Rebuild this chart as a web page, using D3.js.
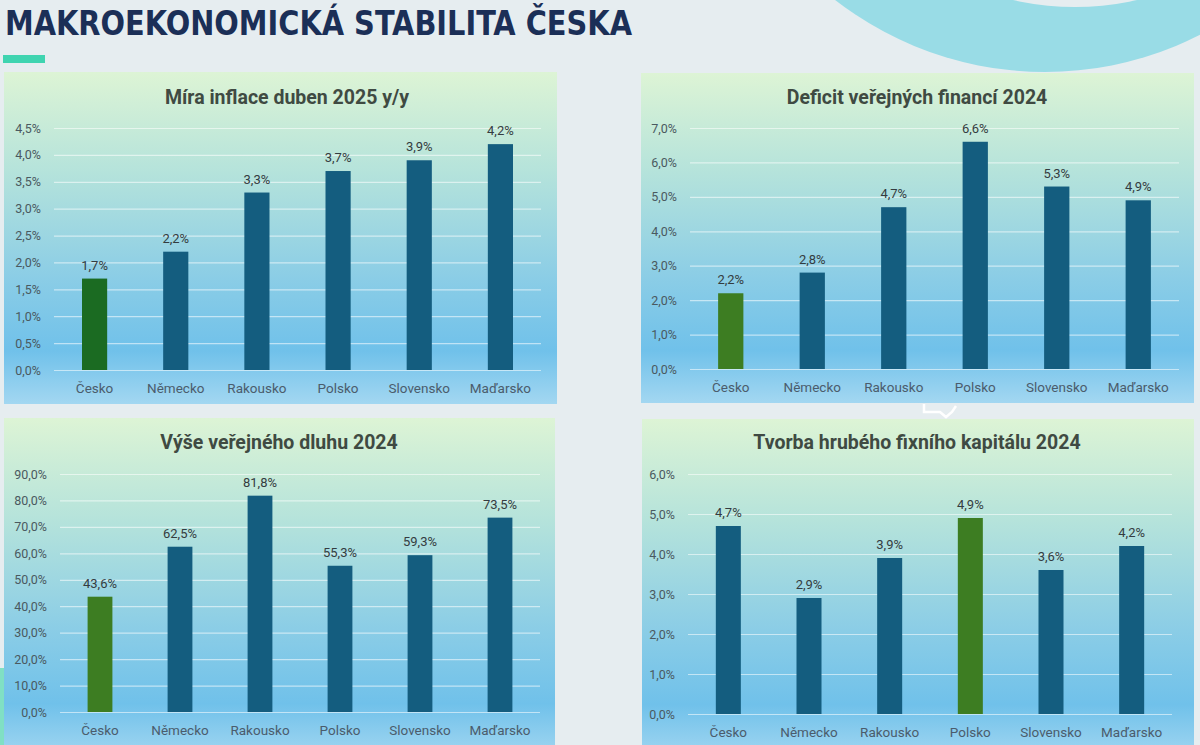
<!DOCTYPE html>
<html>
<head>
<meta charset="utf-8">
<script src="https://cdn.jsdelivr.net/npm/d3@7"></script>
<style>
  body { margin: 0; background: #e6edf0; }
  svg { display: block; }
</style>
</head>
<body>
<script>
// Data
var countries = ["Česko", "Německo", "Rakousko", "Polsko", "Slovensko", "Maďarsko"];
var inflace = [1.7, 2.2, 3.3, 3.7, 3.9, 4.2];
var deficit = [2.2, 2.8, 4.7, 6.6, 5.3, 4.9];
var dluh = [43.6, 62.5, 81.8, 55.3, 59.3, 73.5];
var kapital = [4.7, 2.9, 3.9, 4.9, 3.6, 4.2];

var panelTitles = [
    "Míra inflace duben 2025 y/y",
    "Deficit veřejných financí 2024",
    "Výše veřejného dluhu 2024",
    "Tvorba hrubého fixního kapitálu 2024"
];
var axisMax = [4.5, 7, 90, 6];
var tickStep = [0.5, 1, 10, 1];
var highlighted = ["Česko", "Česko", "Česko", "Polsko"];
var series = [inflace, deficit, dluh, kapital];

// Layout of the four boxes (page pixels)
var layout = [
    { box: [4, 72, 553, 332], x: [54, 541], y: [370, 128], tx: 287, ty: 104, green: "#1b6b22" },
    { box: [641, 73, 553, 330], x: [690, 1179], y: [369, 128], tx: 917, ty: 104, green: "#3d7d22" },
    { box: [4, 418, 551, 340], x: [60, 540], y: [712, 474], tx: 279, ty: 449, green: "#3d7d22" },
    { box: [642, 419, 552, 340], x: [688, 1172], y: [714, 474], tx: 917, ty: 449, green: "#3d7d22" }
];

var cz = d3.formatLocale({ decimal: ",", thousands: " ", grouping: [3], currency: ["", " Kč"] });
var pct = function(v) { return cz.format(".1f")(v) + "%"; };

var W = 1200, H = 745;
var svg = d3.select("body").append("svg")
    .attr("width", W)
    .attr("height", H);

var defs = svg.append("defs");
var grad = defs.append("linearGradient")
    .attr("id", "panelBg")
    .attr("x1", 0).attr("y1", 0).attr("x2", 0).attr("y2", 1);
[["0%", "#ddf4d5"], ["30%", "#b5e3db"], ["62%", "#8bcde6"], ["84%", "#70c1ea"], ["100%", "#a3d7f1"]]
    .forEach(function(s) { grad.append("stop").attr("offset", s[0]).attr("stop-color", s[1]); });

// background decoration: ring at top right
svg.append("circle").attr("cx", 1045).attr("cy", -270).attr("r", 342).attr("fill", "#99dce6");
svg.append("circle").attr("cx", 1075).attr("cy", -271).attr("r", 278).attr("fill", "#e6edf0");

// main heading
svg.append("text")
    .attr("x", 5)
    .attr("y", 35)
    .attr("textLength", 627)
    .attr("lengthAdjust", "spacingAndGlyphs")
    .style("font-family", "'DejaVu Sans Condensed', 'DejaVu Sans', sans-serif")
    .style("font-weight", "bold")
    .style("font-size", "34px")
    .style("fill", "#1b2f57")
    .text("MAKROEKONOMICKÁ STABILITA ČESKA");

svg.append("rect")
    .attr("x", 3).attr("y", 55).attr("width", 42).attr("height", 8)
    .attr("fill", "#3fd4b0");

layout.forEach(function(p, i) {
    var data = series[i];
    var g = svg.append("g");

    g.append("rect")
        .attr("x", p.box[0]).attr("y", p.box[1])
        .attr("width", p.box[2]).attr("height", p.box[3])
        .attr("fill", "url(#panelBg)");

    var x = d3.scaleBand()
        .domain(countries)
        .range(p.x)
        .paddingInner(0.69)
        .paddingOuter(0.345);

    var y = d3.scaleLinear()
        .domain([0, axisMax[i]])
        .range(p.y);

    var ticks = d3.range(0, axisMax[i] + tickStep[i] / 2, tickStep[i]);

    // gridlines + tick labels
    var ax = g.append("g")
        .attr("transform", "translate(" + p.x[0] + ",0)")
        .call(d3.axisLeft(y)
            .tickValues(ticks)
            .tickFormat(pct)
            .tickSizeInner(-(p.x[1] - p.x[0]))
            .tickSizeOuter(0)
            .tickPadding(13));
    ax.select(".domain").remove();
    ax.selectAll(".tick line")
        .attr("stroke", "#ffffff")
        .attr("stroke-opacity", 0.55)
        .attr("stroke-width", 1.2);
    ax.selectAll(".tick text")
        .style("font-family", "Roboto, sans-serif")
        .style("font-size", "12.5px")
        .style("fill", "#4a5960");

    // bars
    g.selectAll("rect.bar")
        .data(countries)
        .enter().append("rect")
        .attr("class", "bar")
        .attr("x", function(d) { return x(d); })
        .attr("width", x.bandwidth())
        .attr("y", function(d, j) { return y(data[j]); })
        .attr("height", function(d, j) { return y(0) - y(data[j]); })
        .attr("fill", function(d) { return d === highlighted[i] ? p.green : "#145d7f"; });

    // value labels
    g.selectAll("text.val")
        .data(countries)
        .enter().append("text")
        .attr("class", "val")
        .attr("x", function(d) { return x(d) + x.bandwidth() / 2; })
        .attr("y", function(d, j) { return y(data[j]) - 9; })
        .attr("text-anchor", "middle")
        .style("font-family", "Roboto, sans-serif")
        .style("font-size", "13px")
        .style("fill", "#343c40")
        .text(function(d, j) { return pct(data[j]); });

    // category labels
    g.selectAll("text.cat")
        .data(countries)
        .enter().append("text")
        .attr("class", "cat")
        .attr("x", function(d) { return x(d) + x.bandwidth() / 2; })
        .attr("y", y(0) + 23)
        .attr("text-anchor", "middle")
        .style("font-family", "Roboto, sans-serif")
        .style("font-size", "13.5px")
        .style("fill", "#4b5c6c")
        .text(function(d) { return d; });

    // panel title
    g.append("text")
        .attr("x", p.tx)
        .attr("y", p.ty)
        .attr("text-anchor", "middle")
        .style("font-family", "Roboto, sans-serif")
        .style("font-weight", "bold")
        .style("font-size", "19.5px")
        .style("fill", "#3f4a42")
        .text(panelTitles[i]);
});

// small artefacts of the original slide
svg.append("rect")
    .attr("x", 0).attr("y", 668).attr("width", 4).attr("height", 77)
    .attr("fill", "#80e0c4");
svg.append("path")
    .attr("d", "M924,404 L924,412 L940,412 L946,417 L952,412 L956,406")
    .attr("fill", "none")
    .attr("stroke", "#ffffff")
    .attr("stroke-width", 2.5);
</script>
</body>
</html>
